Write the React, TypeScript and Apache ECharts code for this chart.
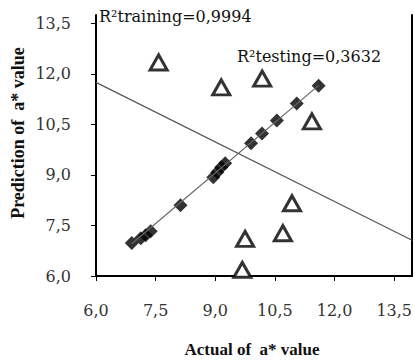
import React, { useEffect, useRef } from "react";
import * as echarts from "echarts";

const tickValues = [6.0, 7.5, 9.0, 10.5, 12.0, 13.5];

const trainActual = [6.9, 7.125, 7.25, 7.375, 8.125, 8.95, 9.05, 9.15, 9.25, 9.9, 10.175, 10.55, 11.05, 11.6];
const trainPred = [6.98, 7.12, 7.21, 7.33, 8.1, 8.93, 9.08, 9.23, 9.35, 9.94, 10.23, 10.62, 11.12, 11.65];

const testActual = [7.575, 9.15, 10.18, 11.43, 10.93, 10.7, 9.75, 9.68];
const testPred = [12.34, 11.6, 11.86, 10.59, 8.16, 7.27, 7.1, 6.18];

const trainFitX = [6.9, 11.6];
const trainFitY = [6.96, 11.66];
const testFitX = [6.0, 13.95];
const testFitY = [11.75, 7.06];

const r2Labels = ["R²training=0,9994", "R²testing=0,3632"];
const xName = "Actual of  a* value";
const yName = "Prediction of  a* value";

const fmt = (v: number) => v.toFixed(1).replace(".", ",");

export default function App() {
  const ref = useRef<HTMLDivElement>(null);
  useEffect(() => {
    if (!ref.current) return;
    const chart = echarts.init(ref.current, null, { renderer: "svg" });
    const serif = "DejaVu Serif";
    const titleFont = "Liberation Serif";
    chart.setOption({
      animation: false,
      backgroundColor: "#ffffff",
      grid: { left: 96, top: 15, right: 2, bottom: 85 },
      xAxis: {
        type: "value",
        min: 6,
        max: 13.95,
        splitLine: { show: false },
        axisLine: { show: true, onZero: false, lineStyle: { color: "#000", width: 2 } },
        axisTick: { show: true, inside: false, length: 5, lineStyle: { color: "#000", width: 1 }, customValues: tickValues },
        axisLabel: {
          customValues: tickValues,
          formatter: (v: number) => fmt(v),
          color: "#333",
          fontFamily: serif,
          fontSize: 16,
          margin: 26,
        },
      },
      yAxis: [
        {
          type: "value",
          min: 6,
          max: 13.75,
          splitLine: { show: false },
          axisLine: { show: true, onZero: false, lineStyle: { color: "#000", width: 2 } },
          axisTick: { show: true, inside: false, length: 5, lineStyle: { color: "#000", width: 1 }, customValues: tickValues },
          axisLabel: {
            customValues: tickValues,
            formatter: (v: number) => fmt(v),
            color: "#333",
            fontFamily: serif,
            fontSize: 16,
            margin: 25,
          },
        },
        {
          type: "value",
          position: "right",
          min: 6,
          max: 13.75,
          splitLine: { show: false },
          axisLine: { show: true, onZero: false, lineStyle: { color: "#000", width: 2 } },
          axisTick: { show: false },
          axisLabel: { show: false },
        },
      ],
      graphic: [
        {
          type: "text",
          left: 99,
          top: 8,
          style: { text: r2Labels[0], font: `16px "${serif}"`, fill: "#111" },
        },
        {
          type: "text",
          left: 237,
          top: 48,
          style: { text: r2Labels[1], font: `16px "${serif}"`, fill: "#111" },
        },
        {
          type: "text",
          x: 18,
          y: 133,
          rotation: Math.PI / 2,
          style: {
            text: yName,
            font: `bold 18px "${titleFont}"`,
            fill: "#111",
            align: "center",
            verticalAlign: "middle",
          },
        },
        {
          type: "text",
          x: 252,
          y: 349,
          style: {
            text: xName,
            font: `bold 17px "${titleFont}"`,
            fill: "#111",
            align: "center",
            verticalAlign: "middle",
          },
        },
      ],
      series: [
        {
          type: "line",
          data: testFitX.map((x, i) => [x, testFitY[i]]),
          symbol: "none",
          lineStyle: { color: "#555", width: 1.2 },
          silent: true,
        },
        {
          type: "line",
          data: trainFitX.map((x, i) => [x, trainFitY[i]]),
          symbol: "none",
          lineStyle: { color: "#666", width: 1.2 },
          silent: true,
        },
        {
          type: "scatter",
          data: trainActual.map((x, i) => [x, trainPred[i]]),
          symbol: "diamond",
          symbolSize: 14,
          itemStyle: { color: "#000" },
        },
        {
          type: "scatter",
          data: testActual.map((x, i) => [x, testPred[i]]),
          symbol: "triangle",
          symbolSize: [17, 15],
          itemStyle: { color: "#fff", borderColor: "#000", borderWidth: 3 },
        },
      ],
    });
    return () => chart.dispose();
  }, []);
  return <div ref={ref} style={{ width: 415, height: 361, position: "absolute", left: 0, top: 0 }} />;
}
